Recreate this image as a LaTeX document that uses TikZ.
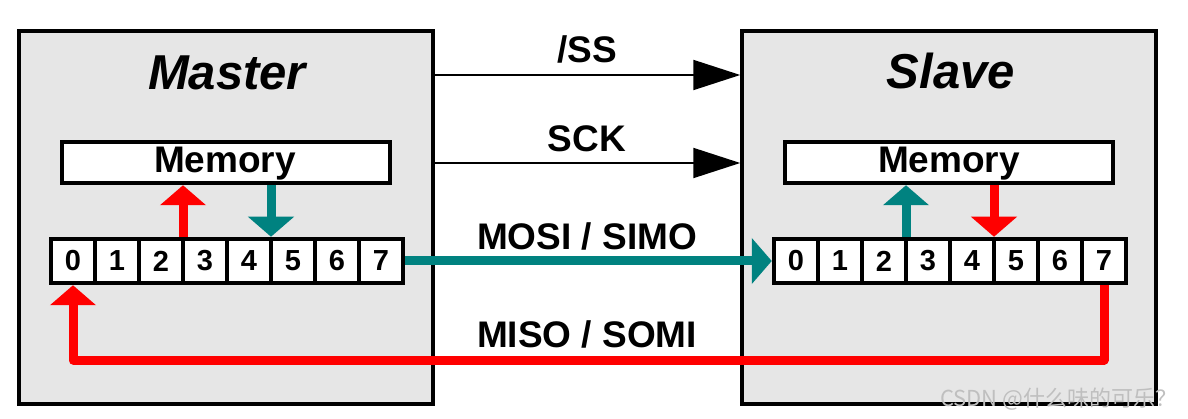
\documentclass[tikz,border=0pt]{standalone}
\usepackage{fontspec}
\setmainfont{Liberation Sans}
\newfontfamily\cjkfont{Noto Sans CJK SC}
\usetikzlibrary{arrows.meta,calc}
\definecolor{busteal}{RGB}{0,130,128}
\definecolor{busred}{RGB}{255,0,0}
\definecolor{panelgray}{RGB}{230,230,230}

\begin{document}
\begin{tikzpicture}[x=1pt,y=-1pt,
  panel/.style={draw=black, line width=3.5pt, fill=panelgray, inner sep=0pt,
    minimum width=414pt, minimum height=373pt},
  membox/.style={draw=black, line width=4.5pt, fill=white, inner sep=0pt,
    minimum width=328pt, minimum height=41pt},
  memtext/.style={font=\bfseries\fontsize{37}{37}\selectfont, inner sep=0pt},
  titletext/.style={font=\bfseries\itshape\fontsize{49}{49}\selectfont, inner sep=0pt},
  cell/.style={draw=black, line width=4.5pt, fill=white, inner sep=0pt,
    minimum width=44pt, minimum height=44pt, font=\bfseries\fontsize{29}{29}\selectfont},
  sigtext/.style={font=\bfseries\fontsize{37}{37}\selectfont, inner sep=0pt},
  sigline/.style={draw=black, line width=2pt, -{Triangle[length=47pt,width=30pt]}},
  fatarrow/.style={line width=9pt, -{Triangle[length=20pt,width=45pt]}},
  busline/.style={line width=9pt, line join=round}
]
\useasboundingbox (0,0) rectangle (1188,419);

% device panels
\node[panel] (mpanel) at (226,217.5) {};
\node[panel] (spanel) at (949,217.5) {};

% titles
\node[titletext, anchor=base] (mtitle) at (227,90) {Master};
\node[titletext, anchor=base] (stitle) at (951,89) {Slave};

% memory blocks
\node[membox] (mmem) at (226,162.5) {};
\node[membox] (smem) at (949,162.5) {};
\node[memtext, anchor=base] (mmemtxt) at (225,173) {Memory};
\node[memtext, anchor=base] (smemtxt) at (949,173) {Memory};

% shift registers
\foreach \i in {0,...,7} {
  \node[cell] (m\i) at ({73+44*\i},261) {\i};
  \node[cell] (s\i) at ({796+44*\i},261) {\i};
}

% register <-> memory transfers
\coordinate (mout) at ($(m2.north east)!0.5!(m3.north west)$);
\coordinate (min)  at ($(m4.north east)!0.5!(m5.north west)$);
\coordinate (sout) at ($(s2.north east)!0.5!(s3.north west)$);
\coordinate (sin)  at ($(s4.north east)!0.5!(s5.north west)$);
\draw[fatarrow, busred]  (mout) -- (mout |- mmem.south);
\draw[fatarrow, busteal] (min |- mmem.south) -- (min);
\draw[fatarrow, busteal] (sout) -- (sout |- smem.south);
\draw[fatarrow, busred]  (sin |- smem.south) -- (sin);

% control lines
\coordinate (ssrow) at (0,75);
\coordinate (sckrow) at (0,163);
\draw[sigline] (mpanel.east |- ssrow) -- (spanel.west |- ssrow);
\draw[sigline] (mpanel.east |- sckrow) -- (spanel.west |- sckrow);

% data lines
\draw[fatarrow, busteal] (m7.east) -- (s0.west);
\coordinate (misorow) at (0,360);
\draw[busline, busred, -{Triangle[length=20pt,width=45pt]}]
  (s7.south) |- (misorow -| m0.south) -- (m0.south);

% signal names
\node[sigtext, anchor=base] (lss) at (587,63) {/SS};
\node[sigtext, anchor=base] (lsck) at (587,152) {SCK};
\node[sigtext, anchor=base] (lmosi) at (587,250) {MOSI / SIMO};
\node[sigtext, anchor=base] (lmiso) at (587,348) {MISO / SOMI};

% watermark
\node[anchor=base west, text=black!25, inner sep=0pt,
  font=\cjkfont\fontsize{22}{22}\selectfont] (wm) at (940,406) {CSDN @什么味的可乐？};
\end{tikzpicture}
\end{document}
